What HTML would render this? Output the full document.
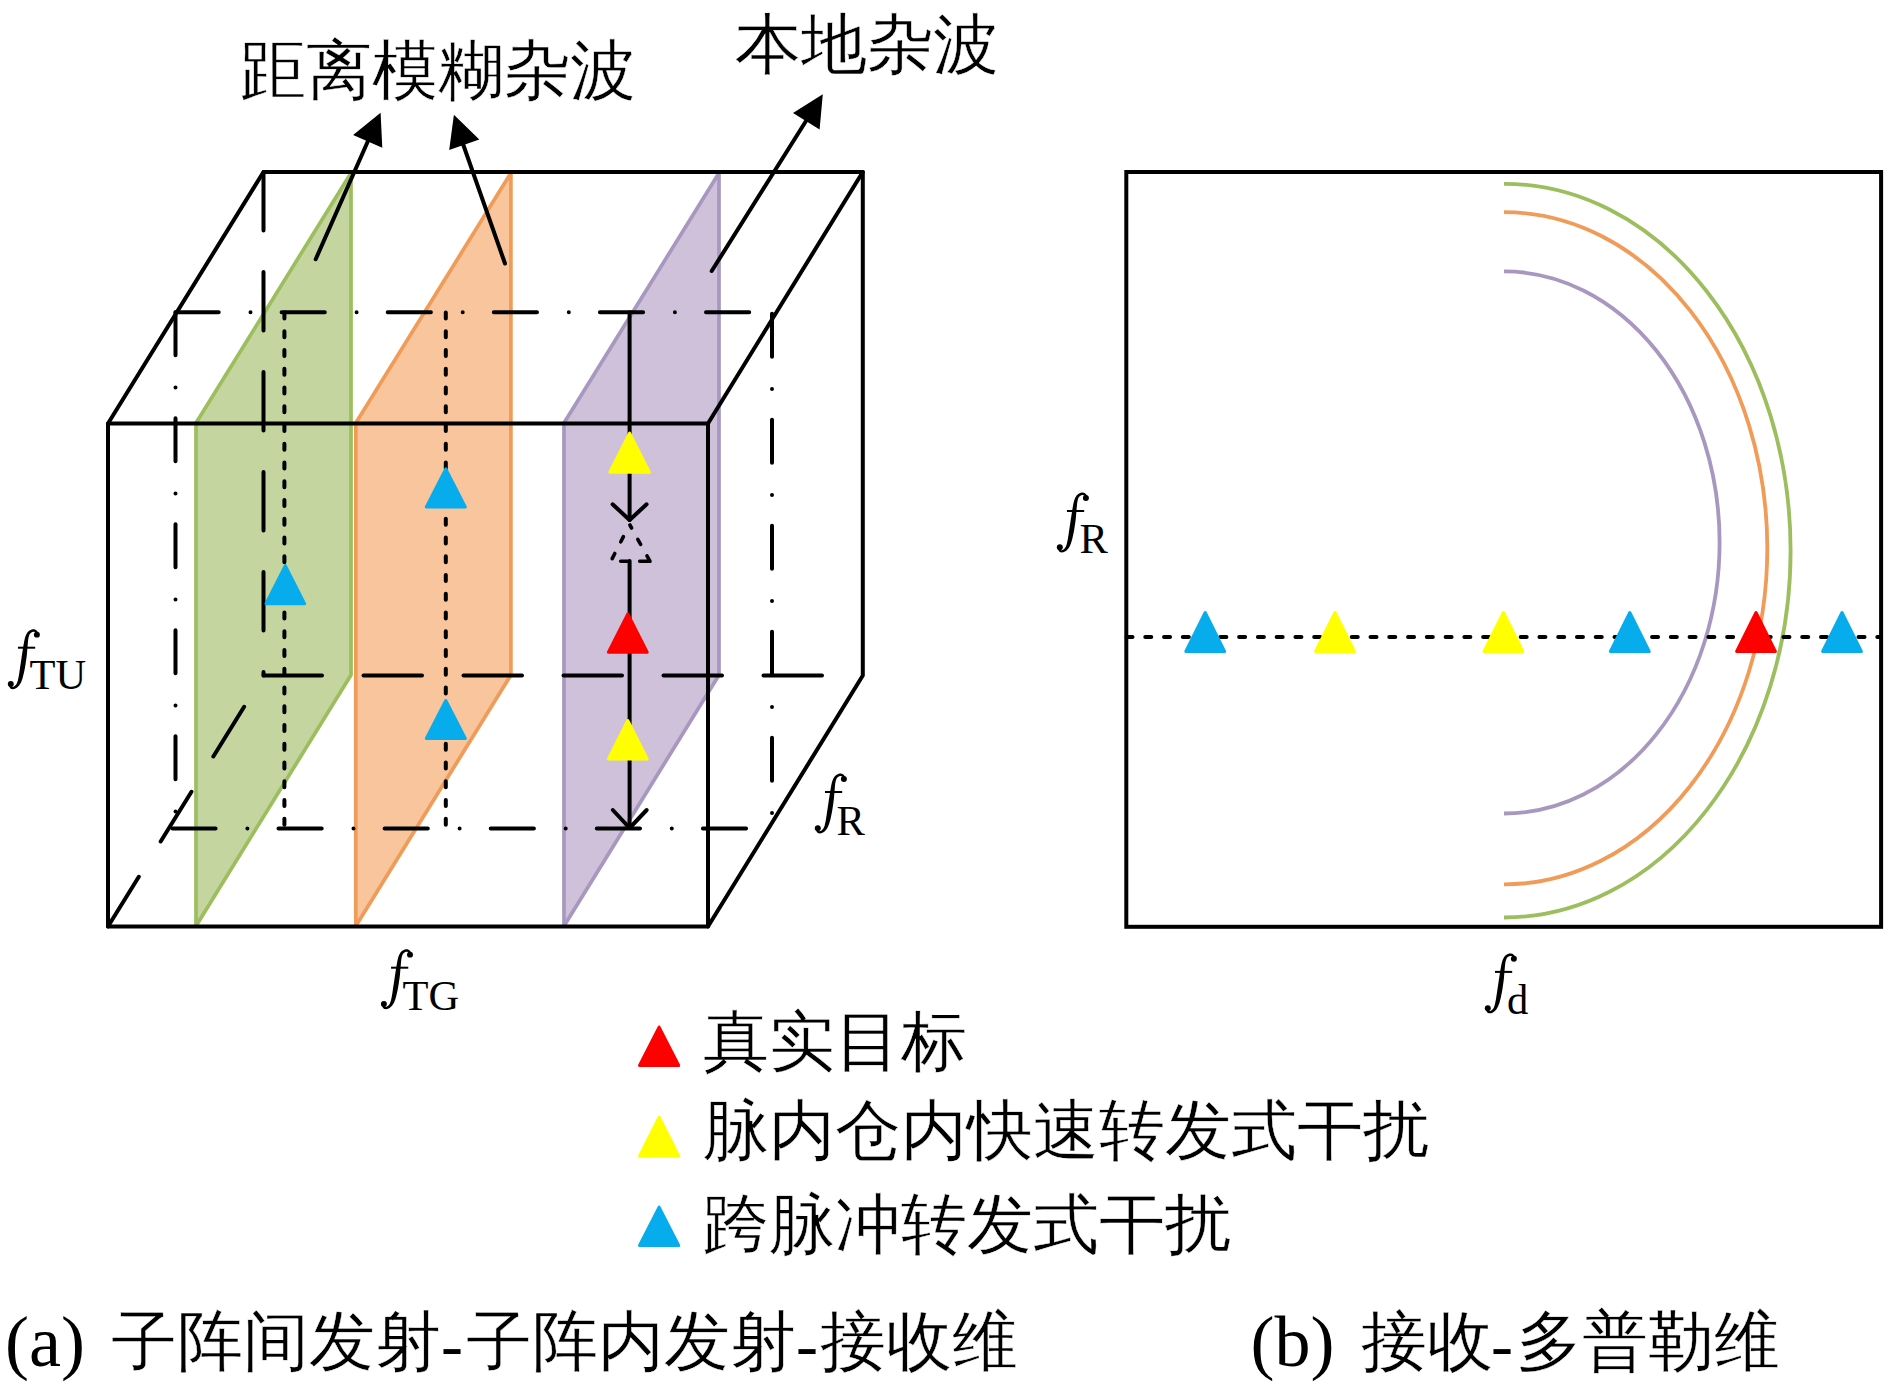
<!DOCTYPE html>
<html><head><meta charset="utf-8">
<style>
html,body{margin:0;padding:0;background:#fff;}
svg{display:block;}
text{font-family:"Liberation Serif",serif;}
</style></head>
<body>
<svg width="1890" height="1394" viewBox="0 0 1890 1394">
<rect x="0" y="0" width="1890" height="1394" fill="#fff"/>
<g stroke-width="3.7" stroke-linejoin="round">
<polygon points="196,926 196,423 351,173 351,675" fill="#C4D59F" stroke="#9DBE5E"/>
<polygon points="355.8,926 355.8,423 510.9,173 510.9,675" fill="#F8C59C" stroke="#F09C58"/>
<polygon points="564,926 564,423 719,173 719,675" fill="#CFC1DA" stroke="#A898C0"/>
</g>
<g stroke="#000" stroke-width="4" fill="none" stroke-linecap="round" stroke-linejoin="round">
<g stroke-dasharray="58.5 41.5">
<line x1="263.5" y1="172" x2="263.5" y2="675.5"/>
<line x1="263.5" y1="675.5" x2="862.8" y2="675.5"/>
<line x1="108" y1="926.5" x2="263.5" y2="675.5"/>
</g>
<g stroke-dasharray="43.2 31.8 0 31.1">
<line x1="175.5" y1="312.2" x2="772" y2="312.2"/>
<line x1="172.4" y1="828.4" x2="772" y2="828.4"/>
</g>
<g stroke-dasharray="43 32.3 0 30.7">
<line x1="175.5" y1="312.3" x2="175.5" y2="828.4"/>
<line x1="772" y1="313.7" x2="772" y2="828.4"/>
</g>
<g stroke-dasharray="6.2 12.55">
<line x1="284.4" y1="312.4" x2="284.4" y2="826"/>
<line x1="445.8" y1="312.4" x2="445.8" y2="826"/>
</g>
<polyline points="108,423.5 708,423.5 708,926.5 108,926.5 108,423.5"/>
<polyline points="108,423.5 263.5,172 862.8,172 708,423.5"/>
<polyline points="862.8,172 862.8,675.5 708,926.5"/>
<line x1="629.6" y1="312.2" x2="629.6" y2="520"/>
<polyline points="612.6,504.3 629.6,520 646.6,504.3"/>
<line x1="629.6" y1="561" x2="629.6" y2="828"/>
<polyline points="612.8,810 629.6,828 646.7,810"/>
<path d="M629.9,525 L631.6,528 M637.8,539.4 L640.6,544.4 M647,555.8 L650,561.3 L639.7,561.3 M628,561.3 L620.7,561.3 M614.8,553.5 L612.2,558.6 M623.4,536.6 L620.8,541.8" stroke-width="3.6"/>
<line x1="315.7" y1="259.2" x2="368" y2="141"/>
<line x1="505" y1="263.5" x2="463" y2="144"/>
<line x1="711.7" y1="271" x2="806" y2="121"/>
</g>
<g fill="#000">
<polygon points="380.6,112.7 353.1,135.1 382.3,147.8"/>
<polygon points="453.9,114.8 449.2,150 479.3,139.4"/>
<polygon points="822.8,94.3 793,113 819.6,129.6"/>
</g>
<g stroke-width="3" stroke-linejoin="round">
<polygon points="629.60,433.10 609.80,472.20 649.40,472.20" fill="#FFFF00" stroke="#FFFF00"/>
<polygon points="627.80,613.90 608.40,652.20 647.20,652.20" fill="#FF0000" stroke="#FF0000"/>
<polygon points="627.80,720.50 608.40,758.90 647.20,758.90" fill="#FFFF00" stroke="#FFFF00"/>
<polygon points="285.30,565.60 266.00,603.70 304.60,603.70" fill="#06ACEB" stroke="#06ACEB"/>
<polygon points="445.80,468.90 426.30,507.00 465.30,507.00" fill="#06ACEB" stroke="#06ACEB"/>
<polygon points="445.80,700.50 426.30,738.50 465.30,738.50" fill="#06ACEB" stroke="#06ACEB"/>
<polygon points="659.10,1027.10 639.50,1065.40 678.70,1065.40" fill="#FF0000" stroke="#FF0000"/>
<polygon points="659.10,1117.30 639.50,1156.10 678.70,1156.10" fill="#FFFF00" stroke="#FFFF00"/>
<polygon points="659.10,1207.10 639.50,1245.40 678.70,1245.40" fill="#06ACEB" stroke="#06ACEB"/>
</g>
<rect x="1126.3" y="172" width="754.8" height="754.8" fill="none" stroke="#000" stroke-width="4"/>
<g fill="none" stroke-width="3.8">
<path d="M1504,271.40 A215.6,271.05 0 0 1 1719.6,542.45 A215.6,271.05 0 0 1 1504,813.50" stroke="#A898C0"/>
<path d="M1504,212.20 A263.3,336.1 0 0 1 1767.3,548.3 A263.3,336.1 0 0 1 1504,884.40" stroke="#F09C58"/>
<path d="M1504,183.80 A286.6,366.85 0 0 1 1790.6,550.65 A286.6,366.85 0 0 1 1504,917.50" stroke="#9DBE5E"/>
</g>
<line x1="1126.5" y1="637" x2="1881" y2="637" stroke="#000" stroke-width="4" stroke-linecap="round" stroke-dasharray="6 12.77"/>
<g stroke-width="3" stroke-linejoin="round">
<polygon points="1205.20,612.50 1185.80,651.40 1224.60,651.40" fill="#06ACEB" stroke="#06ACEB"/>
<polygon points="1335.00,612.50 1315.60,651.40 1354.40,651.40" fill="#FFFF00" stroke="#FFFF00"/>
<polygon points="1503.40,612.50 1484.00,651.40 1522.80,651.40" fill="#FFFF00" stroke="#FFFF00"/>
<polygon points="1629.80,612.50 1610.40,651.40 1649.20,651.40" fill="#06ACEB" stroke="#06ACEB"/>
<polygon points="1756.00,612.50 1736.60,651.40 1775.40,651.40" fill="#FF0000" stroke="#FF0000"/>
<polygon points="1842.00,612.50 1822.60,651.40 1861.40,651.40" fill="#06ACEB" stroke="#06ACEB"/>
</g>
<g font-size="66" fill="#000" stroke="#fff" stroke-width="0.45">
<text x="240" y="93">距离模糊杂波</text>
<text x="735" y="67">本地杂波</text>
<text x="703" y="1064">真实目标</text>
<text x="703" y="1153">脉内仓内快速转发式干扰</text>
<text x="703" y="1247">跨脉冲转发式干扰</text>
<text x="111" y="1364">子阵间发射</text>
<text x="465.5" y="1364">子阵内发射</text>
<text x="820" y="1364">接收维</text>
<text x="1361" y="1364">接收</text>
<text x="1516" y="1364">多普勒维</text>
</g>
<g font-size="66" fill="#000">
<text x="5" y="1366" font-size="72">(a)</text>
<text x="441" y="1367">-</text>
<text x="796" y="1367">-</text>
<text x="1250.6" y="1366" font-size="72">(b)</text>
<text x="1491" y="1367">-</text>
</g>
<defs><g id="fg"><path d="M30.08,2.37 L29.94,2.19 L29.74,1.94 L29.47,1.61 L29.16,1.25 L28.81,0.86 L28.42,0.48 L27.98,0.13 L27.50,-0.16 L27.02,-0.34 L26.56,-0.47 L26.09,-0.54 L25.61,-0.57 L25.13,-0.56 L24.65,-0.50 L24.17,-0.39 L23.70,-0.25 L23.24,-0.09 L22.76,0.11 L22.27,0.35 L21.77,0.63 L21.28,0.96 L20.79,1.34 L20.31,1.78 L19.88,2.27 L19.47,2.79 L19.10,3.33 L18.76,3.91 L18.44,4.52 L18.14,5.16 L17.87,5.83 L17.60,6.53 L17.35,7.27 L17.11,8.04 L16.90,8.82 L16.71,9.62 L16.53,10.44 L16.36,11.31 L16.19,12.24 L16.02,13.23 L15.82,14.32 L15.60,15.54 L15.38,16.88 L15.15,18.30 L14.92,19.78 L14.69,21.29 L14.45,22.81 L14.21,24.30 L13.96,25.74 L13.76,27.18 L13.56,28.63 L13.35,30.08 L13.14,31.53 L12.92,32.96 L12.70,34.38 L12.48,35.78 L12.25,37.14 L12.06,38.52 L11.87,39.90 L11.67,41.28 L11.47,42.62 L11.27,43.92 L11.06,45.16 L10.86,46.31 L10.64,47.37 L10.45,48.35 L10.25,49.26 L10.06,50.09 L9.87,50.86 L9.67,51.56 L9.46,52.21 L9.24,52.82 L8.99,53.39 L8.71,53.92 L8.41,54.41 L8.08,54.87 L7.73,55.29 L7.38,55.68 L7.02,56.02 L6.67,56.32 L6.34,56.57 L6.01,56.75 L5.67,56.88 L5.32,56.99 L4.98,57.05 L4.66,57.07 L4.38,57.06 L4.16,57.02 L4.03,56.99 L3.93,56.93 L3.76,56.72 L3.55,56.37 L3.33,55.95 L3.13,55.49 L2.95,55.05 L2.78,54.65 L2.63,54.36 L0.85,55.17 L0.95,55.41 L1.07,55.78 L1.24,56.25 L1.44,56.78 L1.69,57.33 L1.99,57.89 L2.38,58.41 L2.90,58.85 L3.47,59.12 L4.02,59.27 L4.60,59.34 L5.18,59.34 L5.76,59.27 L6.35,59.14 L6.92,58.95 L7.48,58.70 L8.02,58.43 L8.57,58.10 L9.12,57.72 L9.67,57.29 L10.21,56.80 L10.74,56.25 L11.24,55.65 L11.71,55.00 L12.15,54.32 L12.56,53.61 L12.94,52.86 L13.31,52.08 L13.65,51.24 L13.99,50.35 L14.32,49.41 L14.65,48.39 L14.97,47.27 L15.29,46.06 L15.60,44.78 L15.90,43.45 L16.20,42.09 L16.49,40.71 L16.78,39.33 L17.06,37.96 L17.29,36.56 L17.52,35.14 L17.75,33.70 L17.96,32.24 L18.18,30.78 L18.39,29.31 L18.59,27.85 L18.79,26.40 L18.94,24.91 L19.08,23.38 L19.21,21.84 L19.34,20.31 L19.46,18.82 L19.58,17.40 L19.69,16.08 L19.80,14.87 L19.91,13.76 L20.00,12.76 L20.09,11.84 L20.16,11.00 L20.25,10.23 L20.34,9.50 L20.44,8.82 L20.57,8.14 L20.72,7.48 L20.88,6.85 L21.05,6.26 L21.24,5.72 L21.43,5.21 L21.63,4.75 L21.84,4.33 L22.06,3.96 L22.31,3.64 L22.58,3.36 L22.88,3.09 L23.21,2.85 L23.55,2.63 L23.89,2.43 L24.23,2.26 L24.55,2.13 L24.83,2.03 L25.10,1.96 L25.36,1.92 L25.61,1.90 L25.86,1.90 L26.09,1.93 L26.31,1.98 L26.49,2.03 L26.67,2.11 L26.90,2.28 L27.18,2.52 L27.48,2.81 L27.77,3.11 L28.04,3.41 L28.30,3.67 L28.50,3.87Z"/><circle cx="29.00" cy="4.84" r="2.98"/><circle cx="2.89" cy="54.19" r="2.98"/><rect x="10.06" y="16.89" width="17.22" height="2.01"/></g></defs>
<g fill="#000">
<use href="#fg" x="7.9" y="629.8"/><use href="#fg" x="381" y="949.8"/><use href="#fg" x="814.9" y="774.1"/><use href="#fg" x="1056.9" y="493.1"/><use href="#fg" x="1484.9" y="954"/>
</g>
<g fill="#000" font-size="42.5">
<text x="29.5" y="689">TU</text>
<text x="402.5" y="1010">TG</text>
<text x="836.5" y="834.5">R</text>
<text x="1079.5" y="552.7">R</text>
<text x="1507" y="1014">d</text>
</g>
</svg>
</body></html>
